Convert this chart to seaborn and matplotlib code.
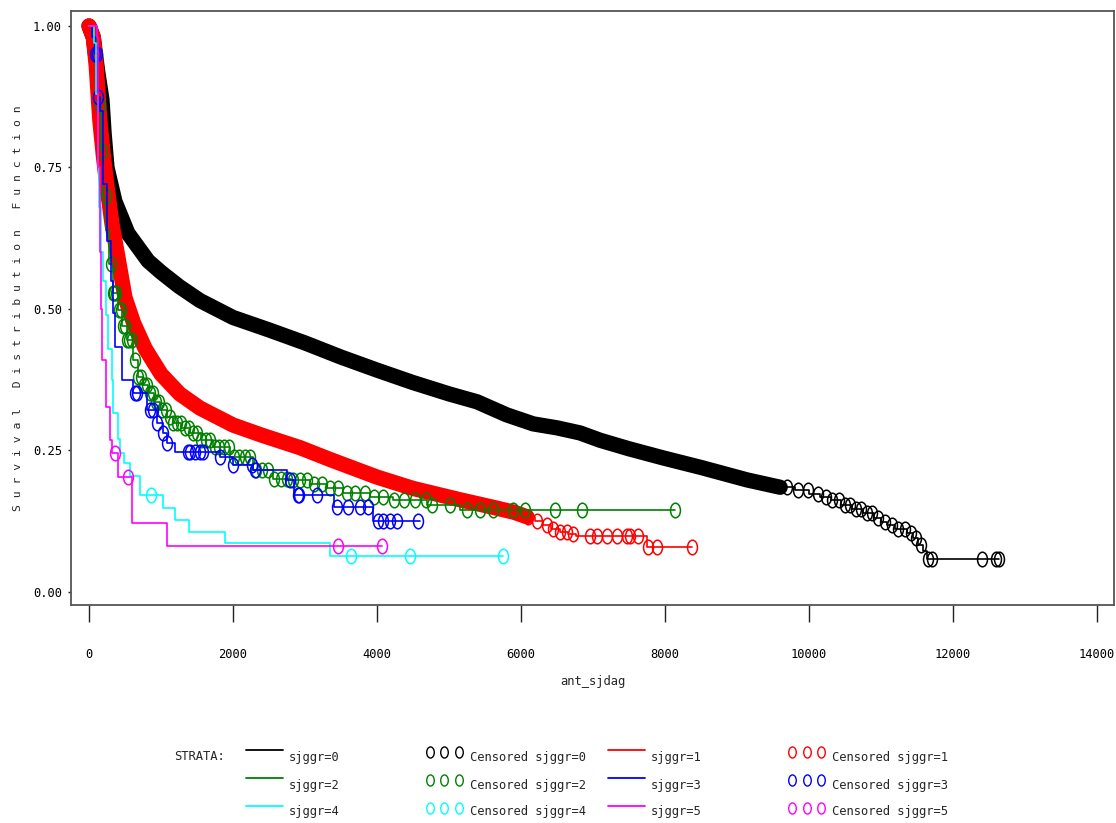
import numpy as np
import matplotlib
matplotlib.use("Agg")
import matplotlib.pyplot as plt
from matplotlib.lines import Line2D
from matplotlib.path import Path
from matplotlib.transforms import Affine2D
import seaborn as sns

# Strata, in SAS drawing order
strata = ["sjggr=0", "sjggr=1", "sjggr=2", "sjggr=3", "sjggr=4", "sjggr=5"]
colors = ["black", "#FF0000", "#008000", "#0000FF", "#00FFFF", "#FF00FF"]

# Kaplan-Meier knots (days, survival)
t_s0 = [0, 60, 120, 180, 210, 250, 360, 540, 820, 1000, 1250, 1540, 2000, 2500,
        3000, 3500, 4000, 4500, 5000, 5390, 5800, 6170, 6500, 6820, 7100, 7500,
        7970, 8500, 9140, 9600, 9800, 10000, 10150, 10300, 10450, 10600, 10750,
        10900, 11000, 11080, 11200, 11360, 11440, 11510, 11580, 11640, 12640]
s_s0 = [1.0, 0.98, 0.92, 0.87, 0.81, 0.75, 0.69, 0.634, 0.585, 0.565, 0.54, 0.515,
        0.485, 0.463, 0.44, 0.415, 0.392, 0.37, 0.35, 0.336, 0.313, 0.297, 0.29,
        0.281, 0.268, 0.253, 0.237, 0.22, 0.198, 0.185, 0.18, 0.174, 0.168, 0.162,
        0.153, 0.146, 0.139, 0.130, 0.124, 0.118, 0.112, 0.104, 0.095, 0.083, 0.072,
        0.058, 0.058]

t_s1 = [0, 60, 100, 150, 200, 250, 320, 390, 500, 620, 780, 1000, 1260, 1540, 2000,
        2400, 2930, 3350, 4000, 4500, 5150, 5600, 5900, 6080, 6200, 6300, 6420, 6540,
        6650, 6770, 7750, 8370]
s_s1 = [1.0, 0.98, 0.93, 0.834, 0.77, 0.716, 0.65, 0.60, 0.52, 0.475, 0.43, 0.385,
        0.35, 0.325, 0.295, 0.277, 0.255, 0.234, 0.203, 0.183, 0.163, 0.15, 0.141,
        0.133, 0.125, 0.118, 0.112, 0.106, 0.102, 0.099, 0.080, 0.080]

t_s2 = [0, 60, 100, 130, 160, 200, 240, 280, 333, 400, 460, 525, 615, 680, 750, 820,
        900, 985, 1080, 1170, 1280, 1400, 1560, 1720, 1960, 2280, 2560, 2800, 3070,
        3300, 3530, 3900, 4220, 4690, 5150, 8140]
s_s2 = [1.0, 0.98, 0.93, 0.86, 0.78, 0.70, 0.64, 0.58, 0.528, 0.498, 0.47, 0.445,
        0.41, 0.38, 0.365, 0.352, 0.335, 0.322, 0.31, 0.298, 0.29, 0.281, 0.268,
        0.256, 0.239, 0.216, 0.20, 0.197, 0.19, 0.183, 0.175, 0.168, 0.163, 0.154,
        0.145, 0.145]

t_s3 = [0, 40, 80, 125, 150, 200, 250, 305, 333, 360, 460, 610, 800, 940, 1030, 1080,
        1200, 1820, 2000, 2280, 2750, 2850, 3400, 3950, 4600]
s_s3 = [1.0, 0.98, 0.95, 0.875, 0.85, 0.72, 0.62, 0.55, 0.493, 0.433, 0.375, 0.352,
        0.322, 0.298, 0.281, 0.263, 0.247, 0.239, 0.224, 0.216, 0.198, 0.172, 0.15,
        0.125, 0.125]

t_s4 = [0, 70, 100, 120, 140, 160, 195, 230, 260, 320, 340, 400, 430, 480, 570, 710,
        1030, 1190, 1390, 1890, 3350, 5750]
s_s4 = [1.0, 0.97, 0.88, 0.75, 0.68, 0.6, 0.55, 0.49, 0.43, 0.375, 0.316, 0.27,
        0.245, 0.228, 0.205, 0.171, 0.148, 0.127, 0.106, 0.087, 0.064, 0.064]

t_s5 = [0, 110, 130, 150, 170, 180, 240, 290, 320, 400, 600, 1080, 4070]
s_s5 = [1.0, 0.98, 0.75, 0.6, 0.5, 0.41, 0.327, 0.268, 0.245, 0.203, 0.122, 0.081,
        0.081]

# Censoring times (days) outside the solid bands
c_s0 = [9700, 9850, 9990, 10120, 10230, 10320, 10410, 10500, 10570, 10650, 10720,
        10800, 10870, 10960, 11050, 11150, 11240, 11330, 11420, 11480, 11560, 11650,
        11710, 12400, 12600, 12640]
c_s1 = [6100, 6217, 6357, 6449, 6542, 6635, 6727, 6958, 7051, 7190, 7329, 7468,
        7514, 7630, 7769, 7884, 8370]
c_s2 = [150, 175, 230, 300, 335, 350, 380, 410, 440, 470, 500, 530, 560, 600, 640,
        680, 720, 760, 800, 845, 890, 930, 975, 1020, 1070, 1120, 1170, 1220, 1275,
        1330, 1385, 1440, 1500, 1560, 1620, 1680, 1745, 1810, 1875, 1940, 2010, 2085,
        2160, 2240, 2320, 2400, 2480, 2570, 2660, 2750, 2840, 2930, 3030, 3130, 3240,
        3350, 3460, 3580, 3700, 3830, 3960, 4090, 4230, 4380, 4530, 4680, 4760, 5014,
        5245, 5431, 5616, 5893, 6055, 6472, 6843, 8139]
c_s3 = [80, 110, 125, 640, 670, 850, 890, 940, 1030, 1080, 1375, 1400, 1470, 1540,
        1590, 1820, 2000, 2260, 2310, 2790, 2900, 2920, 3160, 3440, 3600, 3760, 3870,
        4010, 4080, 4180, 4280, 4570]
c_s4 = [860, 3640, 4460, 5750]
c_s5 = [360, 540, 3460, 4070]

# range where censor marks are so dense they form a solid band
band_end = [9600, 6080, None, None, None, None]

x_ticks = [0, 2000, 4000, 6000, 8000, 10000, 12000, 14000]
y_ticks = [0.0, 0.25, 0.50, 0.75, 1.00]

times = [t_s0, t_s1, t_s2, t_s3, t_s4, t_s5]
survs = [s_s0, s_s1, s_s2, s_s3, s_s4, s_s5]
cens = [c_s0, c_s1, c_s2, c_s3, c_s4, c_s5]


def surv_at(t, s, c):
    idx = np.searchsorted(np.array(t), np.array(c), side="right") - 1
    return np.array(s)[idx]


sns.set_style("white")
plt.rcParams["font.family"] = ["DejaVu Sans Mono", "DejaVu Sans"]
plt.rcParams["font.size"] = 8.7

# SAS draws its circles a little taller than wide
oval = Path.unit_circle().transformed(Affine2D().scale(0.68, 1.0))

fig = plt.figure(figsize=(11.16, 8.23), dpi=100)
ax = fig.add_axes([71 / 1116, 1 - 605 / 823, (1114 - 71) / 1116, (605 - 11) / 823])

for i in range(len(strata)):
    t = np.array(times[i])
    s = np.array(survs[i])
    col = colors[i]
    if band_end[i] is not None:
        m = t <= band_end[i]
        sns.lineplot(x=t[m], y=s[m], color=col, lw=11, ax=ax,
                     solid_capstyle="round", solid_joinstyle="round")
        m2 = t >= band_end[i]
        sns.lineplot(x=t[m2], y=s[m2], color=col, lw=1.2,
                     drawstyle="steps-post", ax=ax)
    else:
        sns.lineplot(x=t, y=s, color=col, lw=1.2, drawstyle="steps-post", ax=ax)
    ax.plot(cens[i], surv_at(t, s, cens[i]), linestyle="none", marker=oval,
            ms=10.5, mfc="none", mec=col, mew=1.1)

ax.set_xlim(-250, 14236)
ax.set_ylim(-0.023, 1.0265)
ax.set_xticks(x_ticks)
ax.set_xticklabels([str(v) for v in x_ticks])
ax.set_yticks(y_ticks)
ax.set_yticklabels(["%.2f" % v for v in y_ticks])
ax.tick_params(axis="x", direction="out", length=12, width=1, pad=19,
               bottom=True, colors="#222222", labelcolor="black")
ax.tick_params(axis="y", direction="out", length=2.5, width=1, pad=4,
               left=True, colors="#222222", labelcolor="black")
for sp in ax.spines.values():
    sp.set_color("#555555")
    sp.set_linewidth(1.3)

ylab = "   ".join(" ".join(w) for w in ["Survival", "Distribution", "Function"])
ax.set_ylabel(ylab, fontsize=8.2)
ax.yaxis.set_label_coords(-0.046, 0.5)
ax.set_xlabel("ant_sjdag")
ax.xaxis.set_label_coords(0.5, -0.118)

# legend block under the plot, laid out like the SAS one
def fx(px):
    return px / 1116


def fy(py):
    return 1 - py / 823


fig.text(fx(174), fy(757), "STRATA:", va="center", ha="left")
rows_line = [750, 778, 806]
rows_text = [757, 785, 812]
line_cols = [(246, 283, 289, [0, 2, 4]), (608, 645, 651, [1, 3, 5])]
mark_cols = [([430, 444, 459], 470, [0, 2, 4]), ([792, 807, 821], 832, [1, 3, 5])]

for x0, x1, xt, idxs in line_cols:
    for r, k in enumerate(idxs):
        fig.add_artist(Line2D([fx(x0), fx(x1)], [fy(rows_line[r])] * 2,
                              color=colors[k], lw=1.3, transform=fig.transFigure))
        fig.text(fx(xt), fy(rows_text[r]), strata[k], va="center", ha="left")

for xs, xt, idxs in mark_cols:
    for r, k in enumerate(idxs):
        fig.add_artist(Line2D([fx(v) for v in xs], [fy(rows_line[r] + 2)] * 3,
                              linestyle="none", marker=oval, ms=8, mfc="none",
                              mec=colors[k], mew=1.0, transform=fig.transFigure))
        fig.text(fx(xt), fy(rows_text[r]), "Censored " + strata[k],
                 va="center", ha="left")

fig.savefig("out.png", dpi=100)
